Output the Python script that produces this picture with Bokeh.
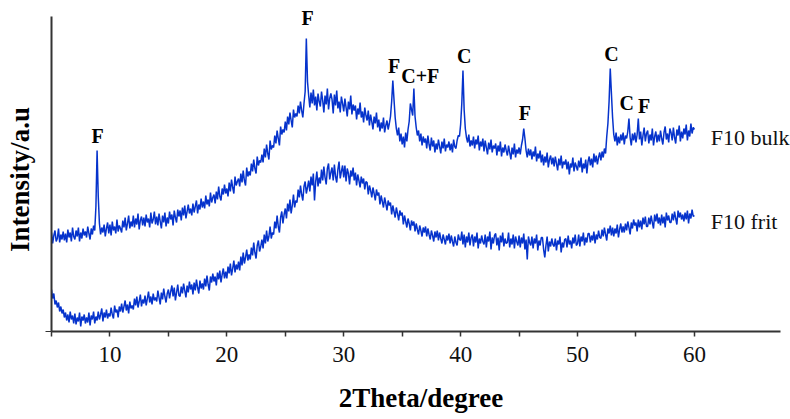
from bokeh.plotting import figure
from bokeh.models import FixedTicker, ColumnDataSource, LabelSet
from bokeh.embed import file_html
from bokeh.resources import INLINE

# 2-theta grid: 5.0 .. 60.0 in 0.1 degree steps (551 points)
two_theta = [round(5 + 0.1 * i, 1) for i in range(551)]

# F10 bulk intensity (a.u.), 10 values per degree
bulk = [
    99, 88, 96, 101, 90, 93, 103, 89, 97, 92,          # 5
    100, 91, 98, 89, 102, 94, 99, 90, 104, 95,         # 6
    92, 101, 95, 104, 90, 99, 93, 103, 96, 100,        # 7
    94, 105, 98, 92, 103, 97, 106, 101, 125, 181,      # 8
    135, 108, 97, 104, 99, 107, 95, 103, 109, 98,      # 9
    107, 96, 110, 101, 105, 98, 112, 100, 106, 103,    # 10
    99, 111, 104, 114, 101, 108, 116, 103, 110, 105,   # 11
    116, 104, 113, 107, 118, 102, 111, 115, 106, 114,  # 12
    105, 117, 109, 113, 104, 119, 108, 112, 120, 107,  # 13
    115, 106, 118, 110, 103, 116, 109, 119, 105, 114,  # 14
    108, 120, 112, 117, 106, 121, 114, 109, 122, 115,  # 15
    121, 111, 124, 116, 126, 113, 120, 127, 118, 123,  # 16
    116, 128, 119, 125, 131, 118, 127, 122, 133, 124,  # 17
    130, 123, 136, 127, 132, 125, 139, 129, 134, 137,  # 18
    128, 140, 132, 145, 135, 131, 143, 137, 147, 138,  # 19
    143, 135, 149, 140, 152, 144, 138, 155, 146, 150,  # 20
    153, 145, 158, 149, 161, 151, 146, 164, 155, 160,  # 21
    156, 168, 160, 172, 163, 158, 175, 166, 171, 169,  # 22
    177, 169, 183, 174, 187, 178, 172, 191, 182, 186,  # 23
    184, 196, 188, 201, 193, 186, 205, 197, 202, 199,  # 24
    210, 201, 215, 207, 219, 211, 204, 222, 214, 218,  # 25
    215, 226, 218, 230, 221, 214, 228, 240, 293, 250,  # 26
    236, 224, 239, 228, 242, 226, 235, 221, 238, 230,  # 27
    225, 240, 231, 219, 236, 227, 243, 222, 233, 238,  # 28
    232, 218, 237, 226, 241, 223, 230, 219, 235, 228,  # 29
    220, 233, 224, 215, 230, 222, 236, 217, 227, 221,  # 30
    226, 212, 223, 217, 229, 214, 220, 209, 224, 216,  # 31
    211, 221, 206, 217, 210, 202, 215, 208, 219, 204,  # 32
    212, 200, 209, 203, 214, 199, 206, 211, 202, 208,  # 33
    215, 230, 251, 232, 214, 203, 196, 204, 190, 198,  # 34
    187, 195, 184, 199, 190, 202, 210, 228, 222, 216,  # 35
    243, 215, 204, 196, 201, 190, 198, 186, 195, 189,  # 36
    193, 183, 196, 187, 181, 194, 185, 191, 179, 188,  # 37
    182, 192, 185, 178, 190, 183, 193, 180, 187, 184,  # 38
    190, 181, 188, 179, 192, 185, 183, 191, 196, 195,  # 39
    207, 228, 261, 222, 203, 194, 189, 197, 185, 191,  # 40
    186, 195, 183, 192, 187, 196, 181, 190, 185, 193,  # 41
    180, 191, 184, 177, 189, 182, 192, 179, 186, 183,  # 42
    188, 176, 186, 180, 190, 175, 184, 179, 187, 181,  # 43
    176, 186, 179, 172, 184, 177, 188, 174, 182, 178,  # 44
    184, 177, 186, 192, 203, 193, 181, 174, 183, 176,  # 45
    182, 172, 180, 175, 185, 170, 178, 173, 181, 169,  # 46
    177, 166, 175, 169, 179, 164, 172, 176, 167, 174,  # 47
    165, 175, 168, 161, 173, 166, 176, 163, 170, 167,  # 48
    172, 162, 170, 157, 168, 164, 174, 160, 169, 165,  # 49
    161, 171, 164, 174, 159, 168, 163, 172, 158, 170,  # 50
    175, 166, 173, 164, 178, 169, 176, 167, 174, 179,  # 51
    171, 180, 174, 183, 178, 195, 208, 230, 263, 238,  # 52
    214, 197, 190, 199, 186, 195, 188, 197, 191, 199,  # 53
    187, 196, 193, 200, 213, 194, 186, 198, 191, 199,  # 54
    189, 197, 213, 192, 200, 186, 196, 204, 190, 198,  # 55
    201, 188, 197, 191, 203, 186, 195, 200, 189, 197,  # 56
    190, 201, 193, 187, 199, 205, 192, 198, 189, 203,  # 57
    199, 191, 204, 194, 188, 202, 196, 206, 190, 200,  # 58
    193, 203, 197, 207, 191, 201, 195, 208, 198, 204,  # 59
    202,                                               # 60
]

# F10 frit intensity (a.u.), 10 values per degree
frit = [
    42, 33, 38, 27, 31, 24, 29, 20, 25, 18,            # 5
    22, 14, 19, 11, 17, 9, 20, 12, 16, 8,              # 6
    18, 7, 14, 10, 19, 5, 15, 11, 17, 8,               # 7
    14, 9, 19, 6, 16, 12, 20, 8, 15, 11,               # 8
    20, 12, 17, 23, 10, 19, 14, 22, 13, 18,            # 9
    15, 24, 17, 13, 26, 19, 22, 14, 25, 20,            # 10
    28, 19, 25, 31, 21, 27, 18, 30, 23, 26,            # 11
    22, 33, 26, 35, 24, 30, 37, 25, 32, 28,            # 12
    36, 26, 33, 40, 29, 35, 27, 38, 31, 34,            # 13
    30, 41, 34, 27, 39, 32, 43, 35, 29, 38,            # 14
    42, 33, 40, 46, 35, 44, 31, 39, 47, 36,            # 15
    35, 45, 38, 48, 41, 34, 46, 39, 50, 42,            # 16
    47, 37, 49, 41, 52, 44, 38, 51, 43, 48,            # 17
    42, 53, 45, 56, 47, 41, 55, 49, 58, 50,            # 18
    55, 46, 59, 52, 61, 49, 57, 63, 53, 60,            # 19
    53, 65, 58, 68, 56, 63, 71, 59, 67, 62,            # 20
    70, 61, 75, 66, 79, 68, 74, 82, 71, 77,            # 21
    72, 84, 76, 89, 79, 73, 86, 91, 80, 85,            # 22
    92, 83, 97, 88, 101, 90, 95, 105, 93, 99,          # 23
    97, 110, 103, 116, 105, 99, 114, 120, 108, 117,    # 24
    123, 113, 128, 120, 132, 118, 126, 137, 124, 131,  # 25
    129, 142, 134, 146, 137, 131, 145, 150, 138, 144,  # 26
    151, 140, 155, 146, 158, 131, 150, 160, 145, 154,  # 27
    148, 162, 151, 165, 154, 147, 163, 168, 152, 159,  # 28
    164, 151, 167, 155, 149, 162, 170, 153, 160, 166,  # 29
    154, 166, 150, 163, 158, 147, 161, 155, 164, 151,  # 30
    159, 146, 157, 151, 144, 155, 148, 153, 142, 150,  # 31
    149, 137, 146, 141, 134, 144, 138, 131, 142, 136,  # 32
    139, 127, 136, 130, 124, 134, 128, 121, 131, 126,  # 33
    129, 117, 126, 120, 114, 124, 118, 111, 121, 116,  # 34
    119, 107, 116, 110, 104, 113, 108, 101, 111, 106,  # 35
    110, 100, 108, 102, 97, 106, 101, 95, 104, 99,     # 36
    105, 95, 103, 97, 92, 101, 96, 90, 100, 94,        # 37
    101, 91, 99, 93, 88, 97, 92, 87, 96, 91,           # 38
    98, 88, 96, 90, 85, 95, 89, 86, 97, 92,            # 39
    91, 100, 87, 97, 84, 95, 89, 99, 86, 94,           # 40
    97, 85, 95, 89, 99, 83, 93, 88, 96, 90,            # 41
    87, 97, 84, 95, 90, 100, 82, 94, 88, 96,           # 42
    98, 86, 94, 81, 96, 89, 99, 85, 93, 88,            # 43
    89, 99, 84, 93, 87, 97, 83, 95, 90, 86,            # 44
    96, 84, 94, 88, 98, 82, 92, 72, 95, 89,            # 45
    86, 95, 83, 93, 88, 97, 81, 91, 86, 94,            # 46
    94, 82, 74, 86, 95, 80, 90, 85, 93, 87,            # 47
    85, 93, 81, 91, 87, 95, 79, 89, 84, 92,            # 48
    93, 84, 96, 87, 91, 83, 94, 88, 97, 86,            # 49
    88, 97, 85, 95, 90, 99, 86, 94, 89, 98,            # 50
    98, 89, 96, 91, 100, 88, 97, 92, 101, 94,          # 51
    93, 102, 95, 104, 97, 91, 103, 98, 106, 96,        # 52
    104, 95, 103, 98, 107, 94, 102, 108, 99, 105,      # 53
    99, 108, 101, 110, 104, 97, 109, 103, 112, 106,    # 54
    109, 100, 112, 104, 111, 102, 114, 107, 115, 105,  # 55
    105, 114, 107, 116, 109, 103, 117, 110, 118, 108,  # 56
    114, 106, 117, 108, 115, 104, 119, 111, 116, 109,  # 57
    109, 118, 111, 120, 113, 107, 121, 114, 119, 112,  # 58
    117, 110, 119, 112, 121, 108, 118, 113, 122, 115,  # 59
    116,                                               # 60
]

# Peak annotations
peak_text = ["F", "F", "F", "C+F", "C", "F", "C", "C", "F"]
peak_x = [8.95, 26.9, 34.3, 36.55, 40.3, 45.5, 52.9, 54.2, 55.7]
peak_y = [196, 314, 266, 256, 276, 219, 278, 229, 226]

series_names = ["F10 bulk", "F10 frit"]
series_label_x = [61.4, 61.4]
series_label_y = [194, 110]

x_ticks = [5, 10, 15, 20, 25, 30, 35, 40, 45, 50, 55, 60]
x_tick_labels = {5: "", 10: "10", 15: "", 20: "20", 25: "", 30: "30", 35: "",
                 40: "40", 45: "", 50: "50", 55: "", 60: "60"}

BLUE = "#0633cc"
AXIS = "#333333"
SERIF = "Liberation Serif"

p = figure(width=790, height=419, x_range=(5, 68.22), y_range=(0, 331),
           output_backend="svg", toolbar_location=None,
           min_border_left=51, min_border_top=0, min_border_right=0, min_border_bottom=88)
p.outline_line_color = None
p.xgrid.visible = False
p.ygrid.visible = False
p.background_fill_color = "white"

p.line(two_theta, bulk, line_color=BLUE, line_width=1.5)
p.line(two_theta, frit, line_color=BLUE, line_width=1.5)

peak_src = ColumnDataSource(dict(x=peak_x, y=peak_y, text=peak_text))
p.add_layout(LabelSet(x="x", y="y", text="text", source=peak_src,
                      text_font=SERIF, text_font_style="bold", text_font_size="20px",
                      text_color="black", text_align="center", text_baseline="middle"))
name_src = ColumnDataSource(dict(x=series_label_x, y=series_label_y, text=series_names))
p.add_layout(LabelSet(x="x", y="y", text="text", source=name_src,
                      text_font=SERIF, text_font_size="22px", text_color="#111111",
                      text_align="left", text_baseline="middle"))

xa = p.xaxis[0]
xa.ticker = FixedTicker(ticks=x_ticks)
xa.bounds = (5, 67.4)
xa.major_label_overrides = x_tick_labels
xa.minor_tick_line_color = None
xa.major_tick_out = 5
xa.major_tick_in = 0
xa.axis_line_color = AXIS
xa.axis_line_width = 2
xa.major_tick_line_color = AXIS
xa.major_tick_line_width = 1.5
xa.major_label_text_font = SERIF
xa.major_label_text_font_size = "23px"
xa.major_label_text_color = "#111111"
xa.major_label_standoff = 10
xa.axis_label = "2Theta/degree"
xa.axis_label_text_font = SERIF
xa.axis_label_text_font_size = "27px"
xa.axis_label_text_font_style = "bold"
xa.axis_label_text_color = "black"
xa.axis_label_standoff = 18

ya = p.yaxis[0]
ya.ticker = FixedTicker(ticks=[0])
ya.bounds = (0, 315)
ya.major_label_overrides = {0: ""}
ya.minor_tick_line_color = None
ya.major_tick_out = 6
ya.major_tick_in = 0
ya.axis_line_color = AXIS
ya.axis_line_width = 2
ya.major_tick_line_color = AXIS
ya.major_label_text_font_size = "1px"
ya.major_label_standoff = 0
ya.axis_label = "Intensity/a.u\u00a0\u00a0\u00a0\u00a0"
ya.axis_label_text_font = SERIF
ya.axis_label_text_font_size = "27px"
ya.axis_label_text_font_style = "bold"
ya.axis_label_text_color = "black"
ya.axis_label_standoff = 11

open("out.html", "w").write(file_html(p, INLINE))
